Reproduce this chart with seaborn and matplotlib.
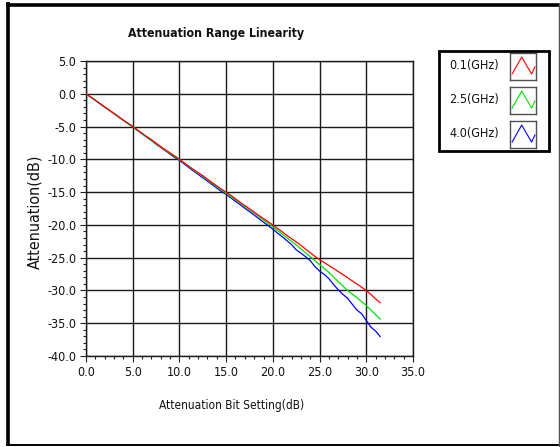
import numpy as np
import pandas as pd
import seaborn as sns
import matplotlib
matplotlib.use("Agg")
import matplotlib.pyplot as plt
from matplotlib import font_manager
from matplotlib.lines import Line2D
from matplotlib.patches import Rectangle
from matplotlib.ticker import MultipleLocator, FormatStrFormatter

# Attenuation bit settings (dB), 0.5 dB LSB, 64 states
setting_db = [i * 0.5 for i in range(64)]

freq_labels = ["0.1(GHz)", "2.5(GHz)", "4.0(GHz)"]
freq_colors = ["#ff0000", "#00e000", "#0000ff"]

atten_01ghz = [
    0.00, -0.48, -0.98, -1.50, -2.02, -2.50, -3.00, -3.52, -4.02, -4.50,
    -4.98, -5.50, -6.03, -6.52, -7.00, -7.52, -8.05, -8.55, -9.02, -9.50,
    -10.00, -10.52, -11.05, -11.55, -12.02, -12.50, -13.02, -13.55, -14.05, -14.55,
    -15.02, -15.50, -16.02, -16.55, -17.05, -17.55, -18.05, -18.55, -19.05, -19.52,
    -20.02, -20.55, -21.05, -21.60, -22.10, -22.60, -23.12, -23.70, -24.25, -24.80,
    -25.30, -25.75, -26.20, -26.65, -27.12, -27.58, -28.05, -28.55, -29.02, -29.50,
    -30.02, -30.62, -31.28, -31.90,
]
atten_25ghz = [
    0.00, -0.50, -1.00, -1.52, -2.03, -2.52, -3.02, -3.53, -4.05, -4.55,
    -5.02, -5.55, -6.08, -6.58, -7.08, -7.65, -8.12, -8.60, -9.10, -9.58,
    -10.05, -10.58, -11.10, -11.62, -12.12, -12.62, -13.12, -13.65, -14.15, -14.68,
    -15.15, -15.65, -16.15, -16.68, -17.18, -17.70, -18.22, -18.75, -19.25, -19.78,
    -20.30, -20.85, -21.40, -21.95, -22.50, -23.05, -23.65, -24.25, -24.85, -25.45,
    -26.05, -26.65, -27.25, -27.95, -28.65, -29.35, -30.00, -30.55, -31.10, -31.70,
    -32.30, -33.00, -33.70, -34.40,
]
atten_40ghz = [
    0.00, -0.50, -1.00, -1.52, -2.02, -2.52, -3.03, -3.55, -4.05, -4.55,
    -5.03, -5.58, -6.10, -6.62, -7.12, -7.70, -8.18, -8.68, -9.20, -9.72,
    -10.15, -10.70, -11.25, -11.78, -12.28, -12.82, -13.32, -13.85, -14.38, -14.92,
    -15.35, -15.88, -16.40, -16.92, -17.45, -17.98, -18.50, -19.05, -19.58, -20.12,
    -20.65, -21.25, -21.80, -22.40, -23.00, -23.80, -24.30, -24.85, -25.45, -26.35,
    -27.05, -27.55, -28.20, -29.10, -29.90, -30.60, -31.20, -32.10, -33.00, -33.55,
    -34.60, -35.60, -36.20, -37.05,
]

x_ticks = [0, 5, 10, 15, 20, 25, 30, 35]
y_ticks = [5, 0, -5, -10, -15, -20, -25, -30, -35, -40]

df = pd.DataFrame({
    "setting": setting_db * 3,
    "atten": atten_01ghz + atten_25ghz + atten_40ghz,
    "freq": [freq_labels[0]] * 64 + [freq_labels[1]] * 64 + [freq_labels[2]] * 64,
})

sns.set_theme(style="white")
plt.rcParams["font.family"] = ["DejaVu Sans"]
plt.rcParams["font.stretch"] = "condensed"

# Prefer a condensed face when one is installed
cond_path = None
cond_bold = None
for f in font_manager.fontManager.ttflist:
    if f.name == "DejaVu Sans" and "Condensed" in f.fname and "Oblique" not in f.fname:
        if "Bold" in f.fname:
            cond_bold = f.fname
        else:
            cond_path = f.fname

W, H = 560, 447
fig = plt.figure(figsize=(W / 100, H / 100), dpi=100, facecolor="white")


def fx(px):
    return px / W


def fy(py):
    return 1 - py / H


def fp(size, bold=False):
    path = cond_bold if bold else cond_path
    if path:
        return font_manager.FontProperties(fname=path, size=size)
    return font_manager.FontProperties(family="DejaVu Sans", size=size * 0.9,
                                       weight="bold" if bold else "normal")


ax = fig.add_axes([fx(86), fy(356), fx(413) - fx(86), fy(61) - fy(356)])
ax.set_facecolor("white")

sns.lineplot(
    data=df, x="setting", y="atten", hue="freq",
    hue_order=[freq_labels[2], freq_labels[1], freq_labels[0]],
    palette=dict(zip(freq_labels, freq_colors)),
    estimator=None, linewidth=0.9, legend=False, ax=ax, zorder=3,
)

ax.set_xlim(x_ticks[0], x_ticks[-1])
ax.set_ylim(y_ticks[-1], y_ticks[0])
ax.xaxis.set_major_locator(MultipleLocator(5))
ax.xaxis.set_minor_locator(MultipleLocator(1))
ax.yaxis.set_major_locator(MultipleLocator(5))
ax.yaxis.set_minor_locator(MultipleLocator(1))
ax.xaxis.set_major_formatter(FormatStrFormatter("%.1f"))
ax.yaxis.set_major_formatter(FormatStrFormatter("%.1f"))
ax.set_xlabel("")
ax.set_ylabel("")

ax.grid(True, which="major", color="#1a1a1a", linewidth=1.0)
for s in ax.spines.values():
    s.set_visible(True)
    s.set_color("#1a1a1a")
    s.set_linewidth(1.0)

ax.tick_params(which="major", direction="out", length=4, width=0.8,
               color="#222222", pad=3, labelcolor="#111111",
               left=True, bottom=True)
ax.tick_params(which="minor", direction="out", length=2.5, width=0.8,
               color="#222222", left=True, bottom=True)
for lab in ax.get_xticklabels() + ax.get_yticklabels():
    lab.set_fontproperties(fp(9))

# Titles and axis captions
fig.text(fx(215.5), fy(34), "Attenuation Range Linearity", ha="center", va="center",
         fontproperties=fp(8.8, bold=True), color="#111111")
fig.text(fx(231.5), fy(405), "Attenuation Bit Setting(dB)", ha="center", va="center",
         fontproperties=fp(8.6), color="#111111")
fig.text(fx(35), fy(212), "Attenuation(dB)", ha="center", va="center",
         rotation=90, fontproperties=font_manager.FontProperties(family="DejaVu Sans", size=11.5),
         color="#111111")

# Legend panel
fig.add_artist(Rectangle((fx(438.5), fy(150.5)), fx(549) - fx(438.5), fy(50.5) - fy(150.5),
                         transform=fig.transFigure, fill=False, edgecolor="black",
                         linewidth=2.0))
row_centers = [66, 100, 134]
box_tops = [53, 87, 121]
zig_x = [0.08, 0.45, 0.83, 0.96]
zig_y = [0.22, 0.85, 0.22, 0.49]
for label, color, yc, top in zip(freq_labels, freq_colors, row_centers, box_tops):
    fig.text(fx(499), fy(yc), label, ha="right", va="center",
             fontproperties=fp(9), color="#111111")
    iax = fig.add_axes([fx(510), fy(top + 27), fx(536) - fx(510), fy(top) - fy(top + 27)])
    iax.set_xlim(0, 1)
    iax.set_ylim(0, 1)
    iax.plot(zig_x, zig_y, color=color, linewidth=0.8)
    iax.set_xticks([])
    iax.set_yticks([])
    for s in iax.spines.values():
        s.set_visible(True)
        s.set_color("#505050")
        s.set_linewidth(1.0)

# Outer panel frame
frame = dict(transform=fig.transFigure, color="black", solid_capstyle="butt")
fig.add_artist(Line2D([fx(7.5), fx(7.5)], [fy(2), fy(446)], linewidth=2.6, **frame))
fig.add_artist(Line2D([fx(6), fx(560)], [fy(4.5), fy(4.5)], linewidth=2.6, **frame))
fig.add_artist(Line2D([fx(6), fx(560)], [fy(445), fy(445)], linewidth=1.4, **frame))
fig.add_artist(Line2D([fx(559), fx(559)], [fy(3), fy(446)], linewidth=1.0,
                      transform=fig.transFigure, color="#555555"))

fig.savefig("out.png", dpi=100, facecolor="white")
